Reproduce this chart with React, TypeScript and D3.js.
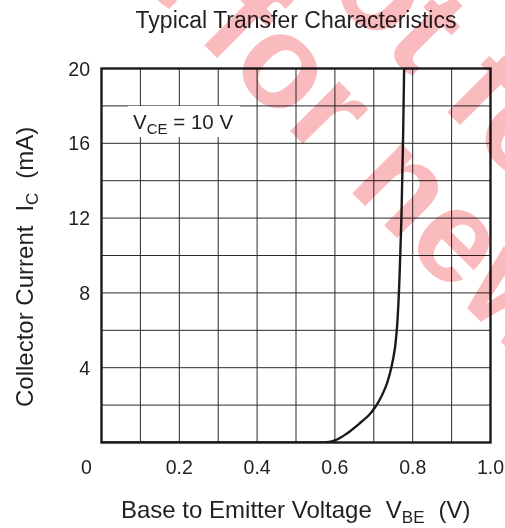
import React from "react";
import * as d3 from "d3";

// Data
const vbe = [0, 0.555, 0.585, 0.601, 0.616, 0.632, 0.662, 0.689, 0.707, 0.731, 0.745, 0.754, 0.759, 0.7645, 0.768, 0.771, 0.773, 0.775, 0.7765, 0.778];
const ic = [0, 0, 0.03, 0.12, 0.28, 0.5, 1.0, 1.5, 2, 3, 4, 5, 6, 8, 10, 12, 14, 16, 18, 20];
const xTicks = [0, 0.2, 0.4, 0.6, 0.8, 1.0];
const xTickLabels = ["0", "0.2", "0.4", "0.6", "0.8", "1.0"];
const yTicks = [4, 8, 12, 16, 20];
const yTickLabels = ["4", "8", "12", "16", "20"];
const xGrid = [0.1, 0.2, 0.3, 0.4, 0.5, 0.6, 0.7, 0.8, 0.9];
const yGrid = [2, 4, 6, 8, 10, 12, 14, 16, 18];
const titleText = "Typical Transfer Characteristics";
const watermarkText = "Not for new design";

const W = 505, H = 528;
const FONT = "'Liberation Sans', Arial, Helvetica, sans-serif";
const INK = "#231f20";

export default function App() {
  const x = d3.scaleLinear().domain([0, 1]).range([101.5, 490.5]);
  const y = d3.scaleLinear().domain([0, 20]).range([442.5, 68.5]);
  const pts: [number, number][] = vbe.map((v, i) => [v, ic[i]]);
  // flat part (on the axis) drawn straight, rising part as x = f(y) smooth monotone curve
  const flat = pts.slice(0, 2);
  const rising = pts.slice(1);
  const straight = d3
    .line<[number, number]>()
    .x((d) => x(d[0]))
    .y((d) => y(d[1]));
  const smooth = d3
    .line<[number, number]>()
    .x((d) => x(d[0]))
    .y((d) => y(d[1]))
    .curve(d3.curveMonotoneY);
  const [x0, x1] = x.range();
  const [yb, yt] = y.range();

  return (
    <svg
      width={W}
      height={H}
      viewBox={`0 0 ${W} ${H}`}
      style={{ position: "absolute", left: 0, top: 0, display: "block", background: "#fff" }}
      fontFamily={FONT}
    >
      <rect x={0} y={0} width={W} height={H} fill="#fff" />
      <text x={296} y={28} textAnchor="middle" fontSize={23} fill={INK}>
        {titleText}
      </text>

      {/* grid */}
      <g stroke="#2a2a2a" strokeWidth={1}>
        {xGrid.map((v) => (
          <line key={"gx" + v} x1={x(v)} x2={x(v)} y1={yt} y2={yb} />
        ))}
        {yGrid.map((v) => (
          <line key={"gy" + v} x1={x0} x2={x1} y1={y(v)} y2={y(v)} />
        ))}
      </g>

      {/* V_CE label with white background */}
      <rect x={128} y={106} width={112} height={31} fill="#fff" />
      <text x={133} y={129} fontSize={20.5} fill={INK}>
        V
        <tspan fontSize={15} dy={5}>CE</tspan>
        <tspan dy={-5}>{" = 10 V"}</tspan>
      </text>

      {/* curve */}
      <defs>
        <clipPath id="plotclip">
          <rect x={x0} y={yt} width={x1 - x0} height={yb - yt} />
        </clipPath>
      </defs>
      <g fill="none" stroke="#1a1a1a" strokeWidth={2.4} clipPath="url(#plotclip)">
        <path d={straight(flat) || ""} />
        <path d={smooth(rising) || ""} />
      </g>

      {/* frame */}
      <rect x={x0} y={yt} width={x1 - x0} height={yb - yt} fill="none" stroke="#1a1a1a" strokeWidth={2.4} />

      {/* x ticks */}
      {xTicks.map((v, i) => (
        <text key={"xt" + v} x={x(v)} dx={i === 0 ? -15 : 0} y={474} textAnchor="middle" fontSize={19.5} fill={INK}>
          {xTickLabels[i]}
        </text>
      ))}
      {/* y ticks */}
      {yTicks.map((v, i) => (
        <text key={"yt" + v} x={90} y={y(v) + 7} textAnchor="end" fontSize={19.5} fill={INK}>
          {yTickLabels[i]}
        </text>
      ))}

      {/* axis titles */}
      <text x={121} y={518} fontSize={24} fill={INK}>
        {"Base to Emitter Voltage"}
        <tspan dx={14}>V</tspan>
        <tspan fontSize={17} dy={5}>BE</tspan>
        <tspan dy={-5} dx={14}>(V)</tspan>
      </text>
      <text transform="translate(33,407) rotate(-90)" fontSize={24} fill={INK}>
        {"Collector Current"}
        <tspan dx={14}>I</tspan>
        <tspan fontSize={17} dy={5}>C</tspan>
        <tspan dy={-5} dx={14}>(mA)</tspan>
      </text>

      {/* watermark */}
      <g
        style={{ mixBlendMode: "multiply" }}
        fill="#f9bbbd"
        fontWeight="bold"
        fontSize={132}
        fontFamily={FONT}
      >
        <text transform="translate(14,-145) rotate(45)">{watermarkText}</text>
        <text transform="translate(257,-78) rotate(45)">{watermarkText}</text>
      </g>
    </svg>
  );
}
